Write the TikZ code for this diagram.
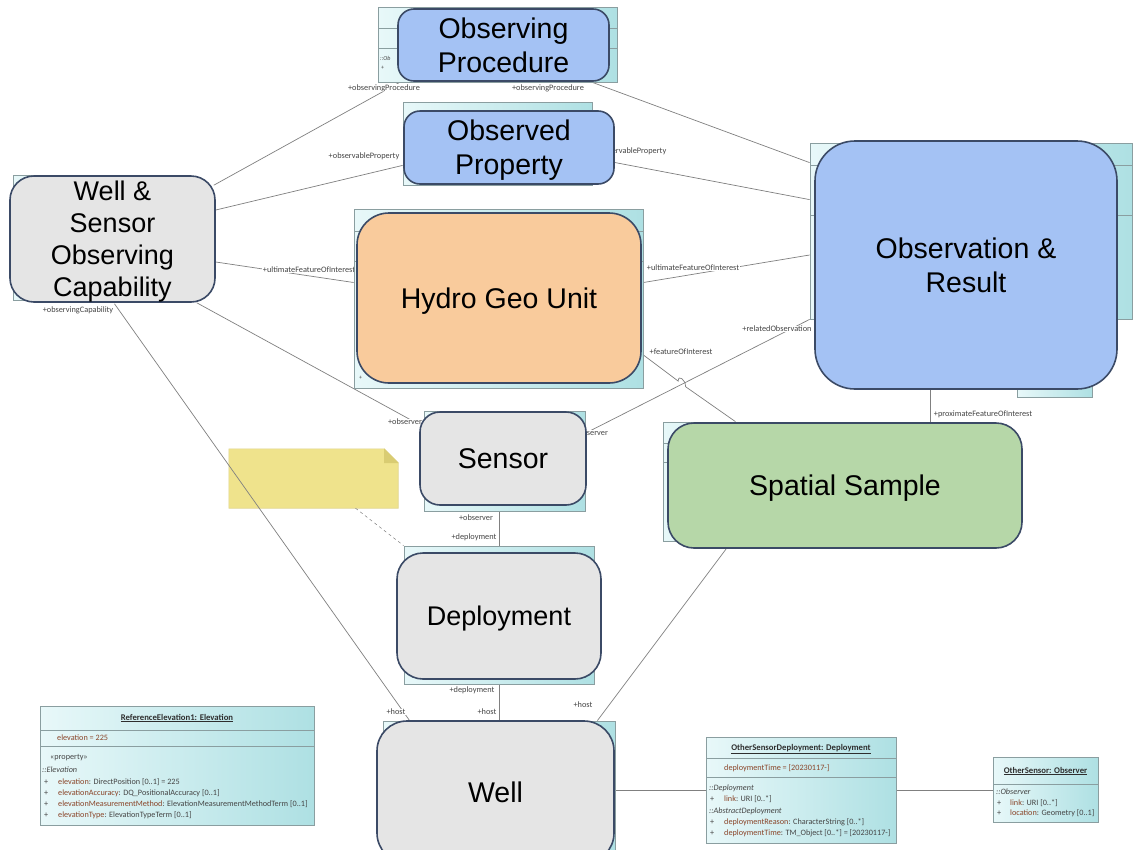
\documentclass[tikz,border=0pt]{standalone}
\usepackage{fontspec}
\setmainfont{Liberation Sans}
\newfontfamily\umlfont{Carlito}
\usepackage{xcolor}
\definecolor{umlline}{HTML}{8A9EA0}
\definecolor{umlleft}{HTML}{E8F8F9}
\definecolor{umlright}{HTML}{AEE0E3}
\definecolor{boxline}{HTML}{3B4A66}
\definecolor{obsblue}{HTML}{A4C2F4}
\definecolor{boxgray}{HTML}{E5E5E5}
\definecolor{peach}{HTML}{F9CB9C}
\definecolor{sagegreen}{HTML}{B6D7A8}
\definecolor{notefill}{HTML}{EFE38C}
\definecolor{notefold}{HTML}{D9CC72}
\definecolor{connline}{HTML}{808080}
\definecolor{nametext}{HTML}{8A4529}
\definecolor{labeltext}{HTML}{454545}
\definecolor{titletext}{HTML}{2E2E2E}
\pgfdeclarelayer{lines}
\pgfdeclarelayer{back}
\pgfsetlayers{lines,back,main}

\begin{document}
\begin{tikzpicture}[x=1pt, y=-1pt,
umlback/.style={draw=umlline, left color=umlleft, right color=umlright, inner sep=0pt, line width=0.8pt},
bigbox/.style={draw=boxline, line width=1.6pt, inner sep=0pt, align=center, text depth=0pt, font=\fontsize{28.5}{34}\selectfont},
conn/.style={draw=connline, line width=0.7pt},
lbl/.style={font=\umlfont\fontsize{8.3}{9}\selectfont, text=labeltext, fill=white, inner sep=0.5pt},
umltxt/.style={font=\umlfont\fontsize{8.2}{9}\selectfont, text=labeltext, inner sep=0pt, anchor=west},
umlital/.style={umltxt, font=\umlfont\itshape\fontsize{8.2}{9}\selectfont},
umltitle/.style={font=\umlfont\bfseries\fontsize{8.7}{9}\selectfont, text=titletext, inner sep=0pt},
divider/.style={draw=umlline, line width=0.6pt}]

\useasboundingbox (0,0) rectangle (1143,849);

\node[bigbox, fill=obsblue, rounded corners=16pt, minimum width=211pt, minimum height=72pt] (op) at (503.5,45) {Observing\\Procedure};
\node[bigbox, fill=obsblue, rounded corners=16pt, minimum width=210pt, minimum height=73pt] (oprop) at (509,147.5) {Observed\\Property};
\node[bigbox, fill=boxgray, rounded corners=24pt, minimum width=205pt, minimum height=126pt, font=\fontsize{27}{32}\selectfont] (wsoc) at (112.5,239) {Well \&\\Sensor\\Observing\\Capability};
\node[bigbox, fill=peach, rounded corners=32pt, minimum width=284pt, minimum height=170pt] (hgu) at (499,298) {Hydro Geo Unit};
\node[bigbox, fill=obsblue, rounded corners=40pt, minimum width=302pt, minimum height=248pt] (obs) at (966,265) {Observation \&\\Result};
\node[bigbox, fill=boxgray, rounded corners=20pt, minimum width=166pt, minimum height=93pt] (sensor) at (503,458.5) {Sensor};
\node[bigbox, fill=sagegreen, rounded corners=26pt, minimum width=354pt, minimum height=125pt] (sample) at (845,485.5) {Spatial Sample};
\node[bigbox, fill=boxgray, rounded corners=26pt, minimum width=204pt, minimum height=126pt, font=\fontsize{27}{32}\selectfont] (depl) at (499,616) {Deployment};
\node[bigbox, fill=boxgray, rounded corners=30pt, minimum width=237pt, minimum height=142pt] (well) at (495.5,792) {Well};

\node[umlback, minimum width=274pt, minimum height=119pt] (refel) at (177,765.5) {};
\draw[divider] (40,730) -- (314,730) (40,746) -- (314,746);
\node[umltitle] (refel0) at (177,718) {\underline{ReferenceElevation1: Elevation}};
\node[umltxt, text=nametext] (refel1) at (57,738) {elevation = 225};
\node[umltxt] (refel2) at (50,758) {«property»};
\node[umlital] (refel3) at (42,770) {::Elevation};
\node[umltxt] (refel4) at (44,782) {\makebox[14pt][l]{+}\textcolor{nametext}{elevation}: DirectPosition [0..1] = 225};
\node[umltxt] (refel5) at (44,793) {\makebox[14pt][l]{+}\textcolor{nametext}{elevationAccuracy}: DQ\_PositionalAccuracy [0..1]};
\node[umltxt] (refel6) at (44,804) {\makebox[14pt][l]{+}\textcolor{nametext}{elevationMeasurementMethod}: ElevationMeasurementMethodTerm [0..1]};
\node[umltxt] (refel7) at (44,815) {\makebox[14pt][l]{+}\textcolor{nametext}{elevationType}: ElevationTypeTerm [0..1]};

\node[umlback, minimum width=190pt, minimum height=106pt] (osd) at (801,790) {};
\draw[divider] (706,758) -- (896,758) (706,777) -- (896,777);
\node[umltitle] (osd0) at (801,749) {\underline{OtherSensorDeployment: Deployment}};
\node[umltxt, text=nametext] (osd1) at (724,768) {deploymentTime = [20230117-]};
\node[umlital] (osd2) at (709,788) {::Deployment};
\node[umltxt] (osd3) at (710,799) {\makebox[14pt][l]{+}\textcolor{nametext}{link}: URI [0..*]};
\node[umlital] (osd4) at (709,811) {::AbstractDeployment};
\node[umltxt] (osd5) at (710,822) {\makebox[14pt][l]{+}\textcolor{nametext}{deploymentReason}: CharacterString [0..*]};
\node[umltxt] (osd6) at (710,833) {\makebox[14pt][l]{+}\textcolor{nametext}{deploymentTime}: TM\_Object [0..*] = [20230117-]};

\node[umlback, minimum width=105pt, minimum height=65pt] (os) at (1045.5,790) {};
\draw[divider] (993,784) -- (1098,784);
\node[umltitle] (os0) at (1045.5,771) {\underline{OtherSensor: Observer}};
\node[umlital] (os1) at (996,792) {::Observer};
\node[umltxt] (os2) at (997,803) {\makebox[13pt][l]{+}\textcolor{nametext}{link}: URI [0..*]};
\node[umltxt] (os3) at (997,813) {\makebox[13pt][l]{+}\textcolor{nametext}{location}: Geometry [0..1]};

\begin{pgfonlayer}{back}
\node[umlback, minimum width=239pt, minimum height=75pt] (opB) at (497.5,44.5) {};
\draw[divider] (378,28) -- (617,28) (378,48) -- (617,48);
\node[umltxt, font=\umlfont\itshape\fontsize{6}{7}\selectfont] (opB1) at (380,58) {::Ob};
\node[umltxt, font=\umlfont\fontsize{6}{7}\selectfont] (opB2) at (381,68) {+};
\node[umlback, minimum width=189pt, minimum height=83pt] (opropB) at (497.5,143.5) {};
\node[umlback, minimum width=152pt, minimum height=125pt] (wsocB) at (89,237.5) {};
\node[umlback, minimum width=289pt, minimum height=179pt] (hguB) at (498.5,298.5) {};
\draw[divider] (354,231) -- (643,231) (354,261) -- (643,261);
\node[umltxt, font=\umlfont\fontsize{6}{7}\selectfont] (hguB1) at (359,378) {+};
\node[umlback, minimum width=75pt, minimum height=78pt] (obsC) at (1054.5,358) {};
\node[umlback, minimum width=322pt, minimum height=176pt] (obsB) at (971,231) {};
\draw[divider] (810,165) -- (1132,165) (810,215) -- (1132,215);
\node[umlback, minimum width=161pt, minimum height=100pt] (sensorB) at (504.5,461) {};
\node[umlback, minimum width=147pt, minimum height=119pt] (sampleB) at (736.5,481.5) {};
\draw[divider] (663,443) -- (810,443) (663,462) -- (810,462);
\node[umlback, minimum width=190pt, minimum height=138pt] (deplB) at (499,615) {};
\node[umlback, minimum width=232pt, minimum height=142pt] (wellB) at (499,792) {};
\end{pgfonlayer}

\begin{pgfonlayer}{lines}
\fill[white] (0,0) rectangle (1143,849);
\node[minimum width=169pt, minimum height=59pt, inner sep=0pt] (note) at (313.5,478.5) {};
\filldraw[fill=notefill, draw=notefold!80!white, line width=0.6pt] (note.north west) -- ([shift={(-14,0)}]note.north east) -- ([shift={(0,14)}]note.north east) -- (note.south east) -- (note.south west) -- cycle;
\filldraw[fill=notefold, draw=notefold] ([shift={(-14,0)}]note.north east) -- ([shift={(-14,14)}]note.north east) -- ([shift={(0,14)}]note.north east) -- cycle;
\draw[conn, dashed, line width=0.5pt] ([shift={(42,0)}]note.south) -- (deplB.north west);

\coordinate (jumpa) at (678.2,381.1);
\coordinate (jumpb) at (685.6,386.7);

\draw[conn] ([shift={(-2,10)}]wsoc.north east) -- ([shift={(22,0)}]opB.south west);
\draw[conn] ([shift={(-25,0)}]opB.south east) -- ([shift={(0,20)}]obsB.north west);
\draw[conn] ([shift={(0,-29)}]wsoc.east) -- ([shift={(0,-20)}]opropB.south west);
\draw[conn] ([shift={(0,15)}]oprop.east) -- ([shift={(0,57)}]obsB.north west);
\draw[conn] ([shift={(0,23)}]wsoc.east) -- ([shift={(0,-16)}]hguB.west);
\draw[conn] ([shift={(0,-16)}]hguB.east) -- ([shift={(0,24)}]obsB.west);
\draw[conn] ([shift={(-19,0)}]wsoc.south east) -- ([shift={(0,-34)}]sensor.west);
\draw[conn] ([shift={(2,1)}]wsoc.south) -- ([shift={(27,0)}]wellB.north west);
\draw[conn] ([shift={(0,56.5)}]hguB.east) -- (jumpa) .. controls +(0,-7) and +(0,-7) .. (jumpb) -- ([shift={(-75,0)}]sampleB.north east);
\draw[conn] ([shift={(0,-26)}]sensor.east) -- (obsB.south west);
\draw[conn] ([shift={(-36,0)}]obs.south) -- ([shift={(85,0)}]sample.north);
\draw[conn] ([shift={(-4,0)}]sensor.south) -- (deplB.north);
\draw[conn] (deplB.south) -- (wellB.north);
\draw[conn] ([shift={(59,0)}]sample.south west) -- ([shift={(-18,0)}]wellB.north east);
\draw[conn] ([shift={(0,-2)}]well.east) -- (osd.west);
\draw[conn] (osd.east) -- (os.west);

\node[lbl] (l1) at (384,88) {+observingProcedure};
\node[lbl] (l2) at (548,88) {+observingProcedure};
\node[lbl] (l3) at (364,156) {+observableProperty};
\node[lbl] (l4) at (631,151) {+observableProperty};
\node[lbl] (l5) at (309,270) {+ultimateFeatureOfInterest};
\node[lbl] (l6) at (693,268) {+ultimateFeatureOfInterest};
\node[lbl] (l7) at (78,310) {+observingCapability};
\node[lbl] (l8) at (405,422) {+observer};
\node[lbl] (l9) at (681,352) {+featureOfInterest};
\node[lbl] (l10) at (777,329) {+relatedObservation};
\node[lbl] (l11) at (591,433) {+observer};
\node[lbl] (l12) at (983,414) {+proximateFeatureOfInterest};
\node[lbl] (l13) at (476,518) {+observer};
\node[lbl] (l14) at (474,537) {+deployment};
\node[lbl] (l15) at (472,690) {+deployment};
\node[lbl] (l16) at (487,712) {+host};
\node[lbl] (l17) at (396,712) {+host};
\node[lbl] (l18) at (583,705) {+host};
\end{pgfonlayer}

\end{tikzpicture}
\end{document}
